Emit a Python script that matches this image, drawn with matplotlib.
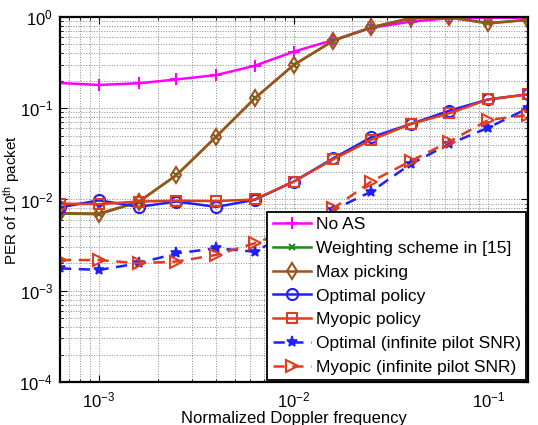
import matplotlib
matplotlib.use("Agg")
import matplotlib.pyplot as plt
from matplotlib.ticker import LogLocator, NullFormatter

plt.rcParams['font.family'] = ['Liberation Sans', 'DejaVu Sans']
plt.rcParams['mathtext.fontset'] = 'custom'
plt.rcParams['mathtext.rm'] = 'Liberation Sans'
plt.rcParams['mathtext.it'] = 'Liberation Sans:italic'

doppler = [6.3e-4, 1.0e-3, 1.6e-3, 2.5e-3, 4.0e-3, 6.3e-3, 1.0e-2,
           1.6e-2, 2.5e-2, 4.0e-2, 6.3e-2, 1.0e-1, 1.6e-1]

no_as = [0.189, 0.180, 0.188, 0.207, 0.231, 0.292, 0.417,
         0.56, 0.76, 0.89, 0.97, 0.98, 0.98]
weighting = [0.0070, 0.0069, 0.0094, 0.0185, 0.0488, 0.128, 0.298,
             0.55, 0.77, 0.97, 0.99, 0.86, 0.93]
max_picking = [0.0071, 0.0070, 0.0095, 0.0185, 0.0488, 0.128, 0.298,
               0.55, 0.77, 0.97, 0.99, 0.85, 0.93]
optimal = [0.0082, 0.0098, 0.0083, 0.0095, 0.0083, 0.0099, 0.0157,
           0.0283, 0.048, 0.0672, 0.094, 0.125, 0.142]
myopic = [0.0090, 0.0089, 0.0095, 0.0097, 0.0096, 0.0100, 0.0157,
          0.0276, 0.0449, 0.0672, 0.088, 0.125, 0.142]
optimal_inf = [0.00176, 0.00169, 0.0020, 0.00257, 0.00292, 0.00268, 0.0045,
               0.0077, 0.0122, 0.0245, 0.0406, 0.0612, 0.100]
myopic_inf = [0.00217, 0.00217, 0.0020, 0.00209, 0.00247, 0.00331, 0.0048,
              0.0080, 0.0157, 0.0264, 0.043, 0.0743, 0.0843]

fig = plt.figure(figsize=(5.38, 4.25), dpi=100)
ax = fig.add_axes([0.1115, 0.1012, 0.8699, 0.8588])

lw = 1.8
ms = 8
dash = (0, (4.5, 3))
ax.plot(doppler, no_as, color='#ff00ff', marker='+', ms=ms, mew=1.5, lw=lw, label='No AS')
ax.plot(doppler, weighting, color='#1a8a1a', marker='x', ms=5, mew=1.5, lw=lw, label='Weighting scheme in [15]')
ax.plot(doppler, max_picking, color='#a0521a', marker='d', ms=ms, mew=1.5, mfc='none', lw=lw, label='Max picking')
ax.plot(doppler, optimal, color='#1f1fff', marker='o', ms=ms, mew=1.5, mfc='none', lw=lw, label='Optimal policy')
ax.plot(doppler, myopic, color='#e03c1e', marker='s', ms=7, mew=1.5, mfc='none', lw=lw, label='Myopic policy')
ax.plot(doppler, optimal_inf, color='#1f1fff', marker='*', ms=ms, mew=1.2, lw=lw, ls=dash, label='Optimal (infinite pilot SNR)')
ax.plot(doppler, myopic_inf, color='#e03c1e', marker='>', ms=ms, mew=1.5, mfc='none', lw=lw, ls=dash, label='Myopic (infinite pilot SNR)')

ax.set_xscale('log')
ax.set_yscale('log')
ax.set_xlim(6.3e-4, 1.6e-1)
ax.set_ylim(1e-4, 1)

ax.xaxis.set_major_locator(LogLocator(base=10, numticks=10))
ax.xaxis.set_minor_locator(LogLocator(base=10, subs=range(2, 10), numticks=20))
ax.xaxis.set_minor_formatter(NullFormatter())
ax.yaxis.set_minor_locator(LogLocator(base=10, subs=range(2, 10), numticks=20))
ax.yaxis.set_minor_formatter(NullFormatter())

ax.grid(True, which='both', ls=':', color='#8a8a8a', lw=0.7)
ax.tick_params(which='both', direction='in', top=True, right=True, labelsize=12)
ax.tick_params(axis='x', which='major', pad=6)
ax.tick_params(axis='y', which='major', pad=5)
ax.tick_params(which='major', length=5)
ax.tick_params(which='minor', length=2.5)
for s in ax.spines.values():
    s.set_linewidth(1.6)

ax.set_xlabel('Normalized Doppler frequency', fontsize=12, labelpad=0.5)
ax.set_ylabel('PER of 10$^{\\mathrm{th}}$ packet', fontsize=11)
ax.yaxis.set_label_coords(-0.082, 0.5)

leg = ax.legend(loc='lower right', fontsize=12.5, frameon=True, fancybox=False,
                edgecolor='black', borderaxespad=0.1, handlelength=2.2,
                handletextpad=0.3, labelspacing=0.5, borderpad=0.3)
leg.get_frame().set_linewidth(1.3)
leg.get_frame().set_alpha(1)

fig.savefig('out.png', dpi=100)
